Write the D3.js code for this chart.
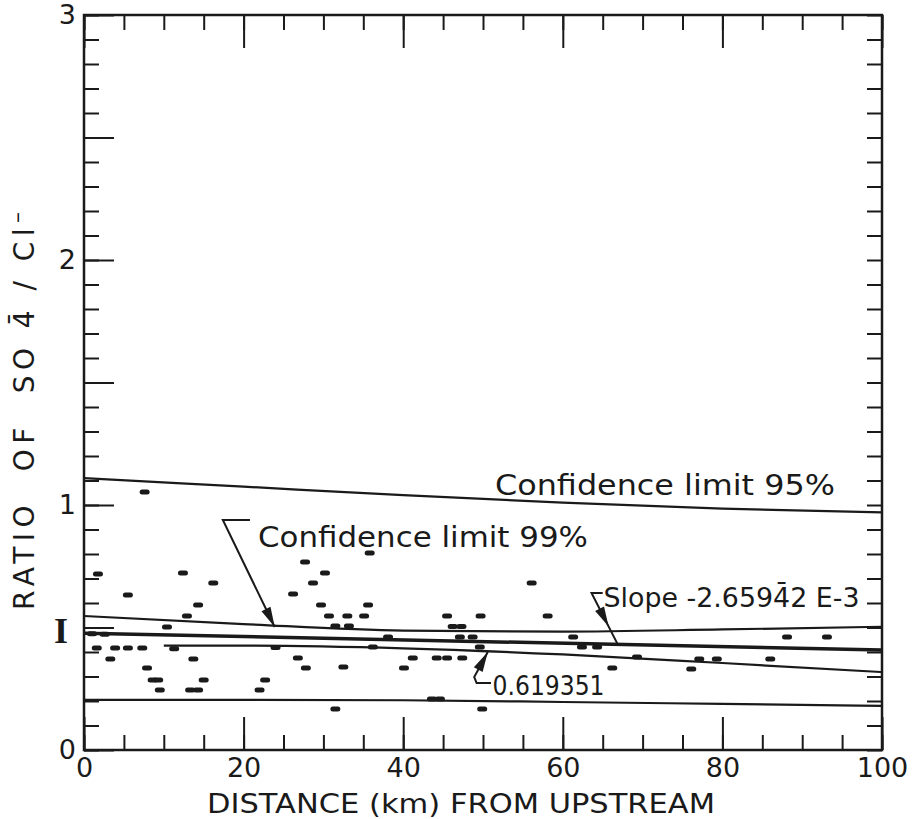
<!DOCTYPE html>
<html>
<head>
<meta charset="utf-8">
<script src="https://cdn.jsdelivr.net/npm/d3@7.9.0/dist/d3.min.js"></script>
<style>
  body { margin: 0; background: #fff; }
  svg { display: block; font-family: 'DejaVu Sans', sans-serif; }
  .tick text { font-size: 27px; fill: #1a1a1a; font-family: 'DejaVu Sans', sans-serif; }
  .tick line { stroke: #1a1a1a; stroke-width: 2; }
</style>
</head>
<body>
<svg width="914" height="819"></svg>
<script>
// sample points: distance from upstream (km) and SO4/Cl ratio
const distKm = [7.6, 1.75, 5.5, 12.4, 16.2, 14.3, 12.9, 10.4, 1.0, 2.6, 3.3, 1.6, 3.9, 5.5, 7.3, 11.3,
  7.9, 8.6, 9.3, 9.5, 13.3, 14.3, 15.0, 13.7, 26.2, 27.7, 30.2, 28.7, 29.7, 30.7, 33.0, 31.5, 33.2,
  35.8, 35.6, 35.1, 26.8, 27.8, 32.5, 22.7, 22.0, 31.5, 24.0, 56.1, 45.5, 49.7, 58.1, 46.2, 47.3,
  38.1, 47.1, 48.7, 49.6, 61.3, 62.4, 64.3, 36.2, 41.2, 44.2, 45.5, 47.4, 40.1, 69.3, 66.2, 43.6,
  44.6, 49.9, 88.1, 93.1, 77.1, 79.3, 76.1, 86.0];
const ratio = [1.053, 0.718, 0.633, 0.722, 0.682, 0.592, 0.547, 0.502, 0.475, 0.472, 0.371, 0.416, 0.416, 0.416, 0.416, 0.413,
  0.335, 0.286, 0.286, 0.245, 0.245, 0.245, 0.286, 0.371, 0.637, 0.767, 0.722, 0.682, 0.592, 0.547, 0.547, 0.506, 0.506,
  0.804, 0.592, 0.547, 0.376, 0.335, 0.339, 0.286, 0.245, 0.167, 0.418, 0.682, 0.547, 0.547, 0.547, 0.504, 0.504,
  0.461, 0.461, 0.461, 0.42, 0.461, 0.42, 0.42, 0.42, 0.376, 0.376, 0.376, 0.376, 0.335, 0.38, 0.335, 0.208,
  0.208, 0.167, 0.461, 0.461, 0.371, 0.371, 0.331, 0.371];

// confidence bands
const bandX = [0, 20, 40, 60, 80, 100];
const upper95 = [1.11, 1.075, 1.04, 1.01, 0.985, 0.97];
const lower95 = [0.205, 0.205, 0.203, 0.196, 0.188, 0.18];
const upper99 = [0.547, 0.514, 0.487, 0.483, 0.492, 0.503];
const lower99X = [10, 20, 40, 60, 80, 100];
const lower99 = [0.426, 0.426, 0.415, 0.39, 0.355, 0.318];
const regX = [0, 100];
const regY = [0.477, 0.408];

const xMajor = [0, 20, 40, 60, 80, 100];
const yLabels = [0, 1, 2, 3];

const ink = '#1a1a1a';
const svg = d3.select('svg');
const x = d3.scaleLinear().domain([0, 100]).range([84, 882]);
const y = d3.scaleLinear().domain([0, 3]).range([750, 15]);

// axes, ticks pointing inward
function addAxis(axis, tx, ty) {
  const g = svg.append('g').attr('transform', `translate(${tx},${ty})`).call(axis);
  g.select('.domain').remove();
  return g;
}
addAxis(d3.axisBottom(x).tickValues(d3.range(0, 101, 5)).tickSize(-15).tickFormat(''), 0, 750);
addAxis(d3.axisBottom(x).tickValues(xMajor).tickSize(-33).tickPadding(8).tickFormat(d3.format('d')), 0, 750);
addAxis(d3.axisTop(x).tickValues(d3.range(0, 101, 5)).tickSize(-15).tickFormat(''), 0, 15);
addAxis(d3.axisTop(x).tickValues(xMajor).tickSize(-33).tickFormat(''), 0, 15);
addAxis(d3.axisLeft(y).tickValues(d3.range(0, 31).map(i => i / 10)).tickSize(-15).tickFormat(''), 84, 0);
addAxis(d3.axisLeft(y).tickValues(d3.range(0, 7).map(i => i / 2)).tickSize(-30)
  .tickPadding(8).tickFormat(d => yLabels.includes(d) ? d3.format('d')(d) : ''), 84, 0);
addAxis(d3.axisRight(y).tickValues(d3.range(0, 31).map(i => i / 10)).tickSize(-15).tickFormat(''), 882, 0);

svg.append('rect')
  .attr('x', x(0)).attr('y', y(3))
  .attr('width', x(100) - x(0)).attr('height', y(0) - y(3))
  .attr('fill', 'none').attr('stroke', ink).attr('stroke-width', 2.5);

// band and regression lines
const line = d3.line().x(d => x(d[0])).y(d => y(d[1])).curve(d3.curveMonotoneX);
const curves = [
  { xs: bandX, ys: upper95, w: 2.2 },
  { xs: bandX, ys: lower95, w: 2.2 },
  { xs: bandX, ys: upper99, w: 2.2 },
  { xs: lower99X, ys: lower99, w: 2.2 },
  { xs: regX, ys: regY, w: 3.5 }
];
svg.selectAll('path.curve')
  .data(curves)
  .join('path')
  .attr('class', 'curve')
  .attr('d', c => line(c.xs.map((v, i) => [v, c.ys[i]])))
  .attr('fill', 'none')
  .attr('stroke', ink)
  .attr('stroke-width', c => c.w);

// points drawn as short dashes
svg.selectAll('rect.pt')
  .data(distKm.map((d, i) => [d, ratio[i]]))
  .join('rect')
  .attr('class', 'pt')
  .attr('x', d => x(d[0]) - 5)
  .attr('y', d => y(d[1]) - 2.5)
  .attr('width', 10).attr('height', 5).attr('rx', 2.5)
  .attr('fill', ink);

// leaders with arrowheads
function leader(pts, tipAt) {
  const p = pts.map(d => [x(d[0]), y(d[1])]);
  svg.append('path').attr('d', d3.line()(p)).attr('fill', 'none').attr('stroke', ink).attr('stroke-width', 2);
  const a = p[p.length - 2], b = p[p.length - 1];
  const tip = [a[0] + (b[0] - a[0]) * tipAt, a[1] + (b[1] - a[1]) * tipAt];
  const ang = Math.atan2(b[1] - a[1], b[0] - a[0]);
  const len = 20, hw = 5;
  const bx = tip[0] - len * Math.cos(ang), by = tip[1] - len * Math.sin(ang);
  const tri = [tip,
    [bx + hw * Math.sin(ang), by - hw * Math.cos(ang)],
    [bx - hw * Math.sin(ang), by + hw * Math.cos(ang)]];
  svg.append('path').attr('d', d3.line()(tri) + 'Z').attr('fill', ink);
}
leader([[20.8, 0.939], [17.4, 0.939], [23.9, 0.502]], 1);
leader([[65, 0.641], [63.6, 0.641], [66.9, 0.43]], 0.65);
leader([[51, 0.273], [49.2, 0.273], [48.9, 0.298], [50.6, 0.4]], 1);

// annotation text
const notes = [
  { t: 'Confidence limit 95%', x: 51.5, y: 1.04, size: 29, len: 340 },
  { t: 'Confidence limit 99%', x: 21.8, y: 0.83, size: 29, len: 330 },
  { t: 'Slope -2.6594\u03042 E-3', x: 65.1, y: 0.584, size: 26, len: 256 },
  { t: '0.619351', x: 51.2, y: 0.225, size: 27, len: 112 }
];
svg.selectAll('text.note')
  .data(notes)
  .join('text')
  .attr('class', 'note')
  .attr('x', d => x(d.x)).attr('y', d => y(d.y))
  .attr('font-size', d => d.size)
  .attr('textLength', d => d.len)
  .attr('lengthAdjust', 'spacingAndGlyphs')
  .attr('fill', ink)
  .text(d => d.t);

// small bold I marker left of the axis
svg.append('text')
  .attr('x', x(0) - 23).attr('y', y(0.435))
  .attr('text-anchor', 'middle')
  .attr('font-family', 'Liberation Serif, serif')
  .attr('font-weight', 'bold')
  .attr('font-size', 36)
  .attr('fill', ink)
  .text('I');

// axis titles
svg.append('text')
  .attr('x', 461).attr('y', 813)
  .attr('text-anchor', 'middle')
  .attr('font-size', 26)
  .attr('textLength', 508).attr('lengthAdjust', 'spacingAndGlyphs')
  .attr('fill', ink)
  .text('DISTANCE  (km)  FROM  UPSTREAM');

const yt = svg.append('text')
  .attr('transform', 'translate(34,610) rotate(-90)')
  .attr('font-size', 28)
  .attr('textLength', 398)
  .attr('lengthAdjust', 'spacing')
  .attr('fill', ink)
  .style('white-space', 'pre');
yt.append('tspan').text('RATIO  OF  SO 4\u0304 / Cl');
yt.append('tspan').attr('dy', -10).attr('font-size', 22).text('\u2013');
</script>
</body>
</html>
